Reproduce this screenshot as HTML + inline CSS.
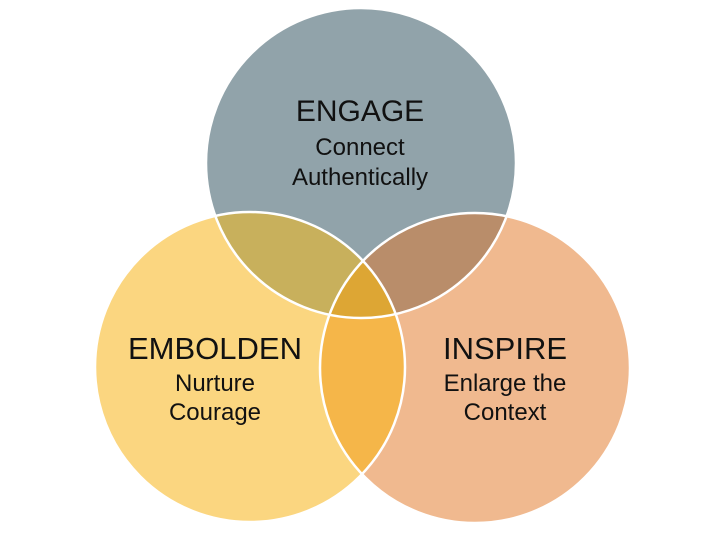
<!DOCTYPE html>
<html><head><meta charset="utf-8"><style>html,body{margin:0;padding:0;background:#fff;}svg{display:block}</style></head>
<body>
<svg width="720" height="540" viewBox="0 0 720 540" xmlns="http://www.w3.org/2000/svg">
<defs>
<clipPath id="cT"><circle cx="361" cy="163" r="155"/></clipPath>
<clipPath id="cL"><circle cx="250" cy="367" r="155"/></clipPath>
<clipPath id="cR"><circle cx="475" cy="368" r="155"/></clipPath>
</defs>
<circle cx="361" cy="163" r="155" fill="#91A3AA"/>
<circle cx="250" cy="367" r="155" fill="#FBD680"/>
<circle cx="475" cy="368" r="155" fill="#F0B98F"/>
<g clip-path="url(#cT)"><circle cx="250" cy="367" r="155" fill="#C8B05C"/><circle cx="475" cy="368" r="155" fill="#B98D6A"/></g>
<g clip-path="url(#cL)"><circle cx="475" cy="368" r="155" fill="#F5B649"/></g>
<g clip-path="url(#cL)"><g clip-path="url(#cR)"><circle cx="361" cy="163" r="155" fill="#DDA634"/></g></g>
<g fill="none" stroke="#fff" stroke-width="2.5">
<circle cx="361" cy="163" r="155"/><circle cx="250" cy="367" r="155"/><circle cx="475" cy="368" r="155"/>
</g>
<g font-family="'Liberation Sans',sans-serif" fill="#111" text-anchor="middle">
<text x="360" y="121" font-size="30">ENGAGE</text>
<text x="360" y="155" font-size="24">Connect</text>
<text x="360" y="185" font-size="24">Authentically</text>
<text x="215" y="359" font-size="31">EMBOLDEN</text>
<text x="215" y="391" font-size="24">Nurture</text>
<text x="215" y="420" font-size="24">Courage</text>
<text x="505" y="359" font-size="31">INSPIRE</text>
<text x="505" y="391" font-size="24">Enlarge the</text>
<text x="505" y="420" font-size="24">Context</text>
</g>
</svg>
</body></html>
